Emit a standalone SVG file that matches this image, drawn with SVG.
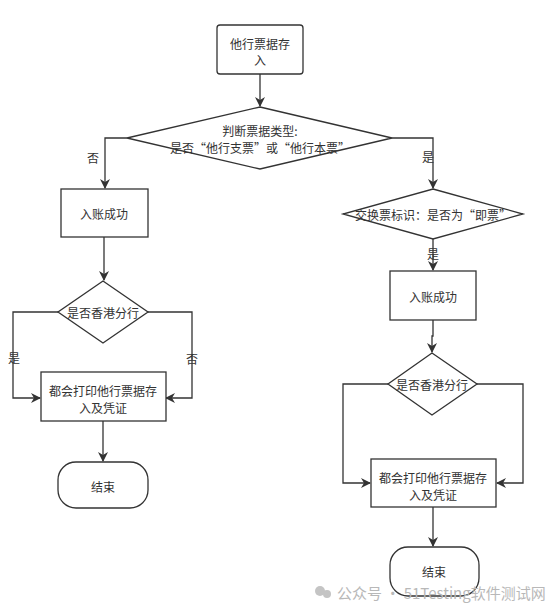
<svg xmlns="http://www.w3.org/2000/svg" width="560" height="613" viewBox="0 0 560 613">
<defs>
<marker id="ah" markerWidth="10" markerHeight="10" refX="9" refY="5" orient="auto" markerUnits="userSpaceOnUse">
<path d="M0,0 L10,5 L0,10 L3,5 Z" fill="#333"/>
</marker>
</defs>
<style>
.n{fill:#fff;stroke:#333;stroke-width:1.3}
.t{font-family:"Noto Sans CJK SC","Liberation Sans",sans-serif;font-size:12px;fill:#333;text-anchor:middle;dominant-baseline:central}
.c{fill:none;stroke:#333;stroke-width:1.3;marker-end:url(#ah)}
.l{font-family:"Noto Sans CJK SC","Liberation Sans",sans-serif;font-size:12px;fill:#333;text-anchor:middle;dominant-baseline:central}
.w{font-family:"Noto Sans CJK SC","Liberation Sans",sans-serif;font-size:15px;fill:#b8b8b8;dominant-baseline:central}
</style>
<rect width="560" height="613" fill="#fff"/>
<g id="connectors">
<path class="c" d="M260,74 L260,106"/>
<path class="c" d="M127,138 L105,138 L105,188"/>
<path class="c" d="M392,138 L433,138 L433,188"/>
<path class="c" d="M104,237 L104,280"/>
<path class="c" d="M58,312 L13,312 L13,398 L40,398"/>
<path class="c" d="M148,312 L192,312 L192,398 L166,398"/>
<path class="c" d="M103,421 L103,461"/>
<path class="c" d="M433,239 L433,270"/>
<path class="c" d="M433,320 L433,336 L432,336 L432,352"/>
<path class="c" d="M388,384 L343,384 L343,483 L370,483"/>
<path class="c" d="M477,384 L523,384 L523,483 L497,483"/>
<path class="c" d="M433,507 L433,546"/>
</g>
<g id="labels">
<text class="l" x="93" y="157">否</text>
<text class="l" x="428" y="156">是</text>
<text class="l" x="14" y="357">是</text>
<text class="l" x="192" y="358">否</text>
<text class="l" x="433" y="253">是</text>
</g>
<g id="start">
<rect class="n" x="217" y="25" width="86" height="49" rx="3"/>
<text class="t" x="260" y="43">他行票据存</text>
<text class="t" x="260" y="59">入</text>
</g>
<g id="decision1">
<polygon class="n" points="260,107 392,138 260,169 127,138"/>
<text class="t" x="260" y="130">判断票据类型:</text>
<text class="t" x="260" y="147">是否“他行支票”或“他行本票”</text>
</g>
<g id="account1">
<rect class="n" x="61" y="189" width="87" height="48"/>
<text class="t" x="104" y="213">入账成功</text>
</g>
<g id="hk1">
<polygon class="n" points="103,281 148,312 103,343 58,312"/>
<text class="t" x="103" y="312">是否香港分行</text>
</g>
<g id="print1">
<rect class="n" x="41" y="372" width="125" height="49"/>
<text class="t" x="103" y="390">都会打印他行票据存</text>
<text class="t" x="103" y="407">入及凭证</text>
</g>
<g id="end1">
<rect class="n" x="58" y="462" width="90" height="46" rx="18"/>
<text class="t" x="103" y="486">结束</text>
</g>
<g id="decision2">
<polygon class="n" points="433,189 523,214 433,239 343,214"/>
<text class="t" x="433" y="214">交换票标识：是否为“即票”</text>
</g>
<g id="account2">
<rect class="n" x="390" y="271" width="86" height="49"/>
<text class="t" x="433" y="296">入账成功</text>
</g>
<g id="hk2">
<polygon class="n" points="432,353 477,384 432,415 388,384"/>
<text class="t" x="432" y="384">是否香港分行</text>
</g>
<g id="print2">
<rect class="n" x="371" y="459" width="125" height="48"/>
<text class="t" x="433" y="477">都会打印他行票据存</text>
<text class="t" x="433" y="494">入及凭证</text>
</g>
<g id="end2">
<rect class="n" x="390" y="547" width="89" height="49" rx="18"/>
<text class="t" x="434" y="571">结束</text>
</g>
<g id="watermark">
<circle cx="320" cy="591" r="5" fill="#c4c4c4"/>
<circle cx="327" cy="594" r="4" fill="#c4c4c4"/>
<text class="w" x="337" y="592">公众号 · 51Testing软件测试网</text>
</g>
</svg>
